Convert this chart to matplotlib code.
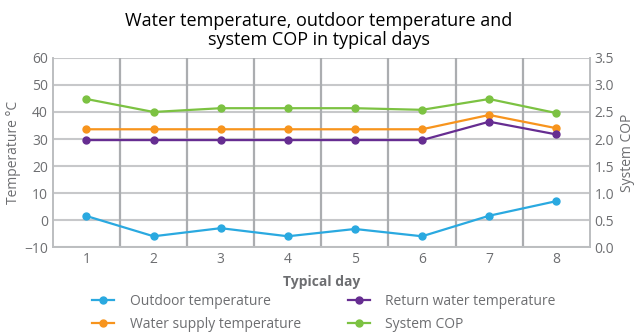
import numpy as np
import matplotlib.pyplot as plt

plt.rcParams["font.family"] = ["Open Sans", "DejaVu Sans"]

days = [1, 2, 3, 4, 5, 6, 7, 8]
outdoor = [1.5, -6, -3, -6, -3.3, -6, 1.6, 7]
supply = [33.6, 33.6, 33.6, 33.6, 33.6, 33.6, 38.9, 34]
ret = [29.6, 29.6, 29.6, 29.6, 29.6, 29.6, 36.4, 31.7]
cop = [2.74, 2.50, 2.57, 2.57, 2.57, 2.54, 2.74, 2.48]

grey = '#6d6e71'
fig = plt.figure(figsize=(6.37, 3.33), dpi=100)
ax = fig.add_axes([0.083, 0.258, 0.843, 0.568])
ax2 = ax.twinx()

l1, = ax.plot(days, outdoor, color='#2aa9e0', marker='o', ms=5, lw=1.6, label='Outdoor temperature')
l2, = ax.plot(days, supply, color='#f7941d', marker='o', ms=5, lw=1.6, label='Water supply temperature')
l3, = ax.plot(days, ret, color='#662d91', marker='o', ms=5, lw=1.6, label='Return water temperature')
l4, = ax2.plot(days, cop, color='#7cc242', marker='o', ms=5, lw=1.6, label='System COP')

ax.set_xlim(0.5, 8.5)
ax.set_ylim(-10, 60)
ax.set_yticks(np.arange(-10, 61, 10))
ax.set_xticks(days)
ax2.set_ylim(0, 3.5)
ax2.set_yticks(np.arange(0, 3.51, 0.5))
ax2.set_yticklabels(['%.1f' % v for v in np.arange(0, 3.51, 0.5)])

ax.grid(axis='y', color='#c7c8ca', lw=1.5, zorder=0.5)
for xv in np.arange(1.5, 8, 1):
    ax.axvline(xv, color='#abadb0', lw=1.6, zorder=0.6)
ax.set_axisbelow(True)
ax.tick_params(which='both', length=0, colors=grey, labelsize=10)
ax2.tick_params(length=0, colors=grey, labelsize=10)
for a in (ax, ax2):
    for s in a.spines.values():
        s.set_color('#bcbec0')
        s.set_linewidth(1.2)
    a.spines['top'].set_visible(False)

ax.set_ylabel('Temperature °C', color=grey, fontsize=10, labelpad=2)
ax2.set_ylabel('System COP', color=grey, fontsize=10, rotation=90, labelpad=4)
ax.set_xlabel('Typical day', color=grey, fontsize=10, fontweight='bold', labelpad=6)

fig.suptitle('Water temperature, outdoor temperature and\nsystem COP in typical days',
             fontsize=13, y=0.965, linespacing=1.1)

fig.legend(handles=[l1, l2, l3, l4], loc='lower left', bbox_to_anchor=(0.125, -0.035),
           ncol=2, frameon=False, fontsize=10, labelcolor=grey, columnspacing=3.4,
           handlelength=1.6, handletextpad=1.1, labelspacing=0.6)

plt.savefig('out.png', dpi=100)
